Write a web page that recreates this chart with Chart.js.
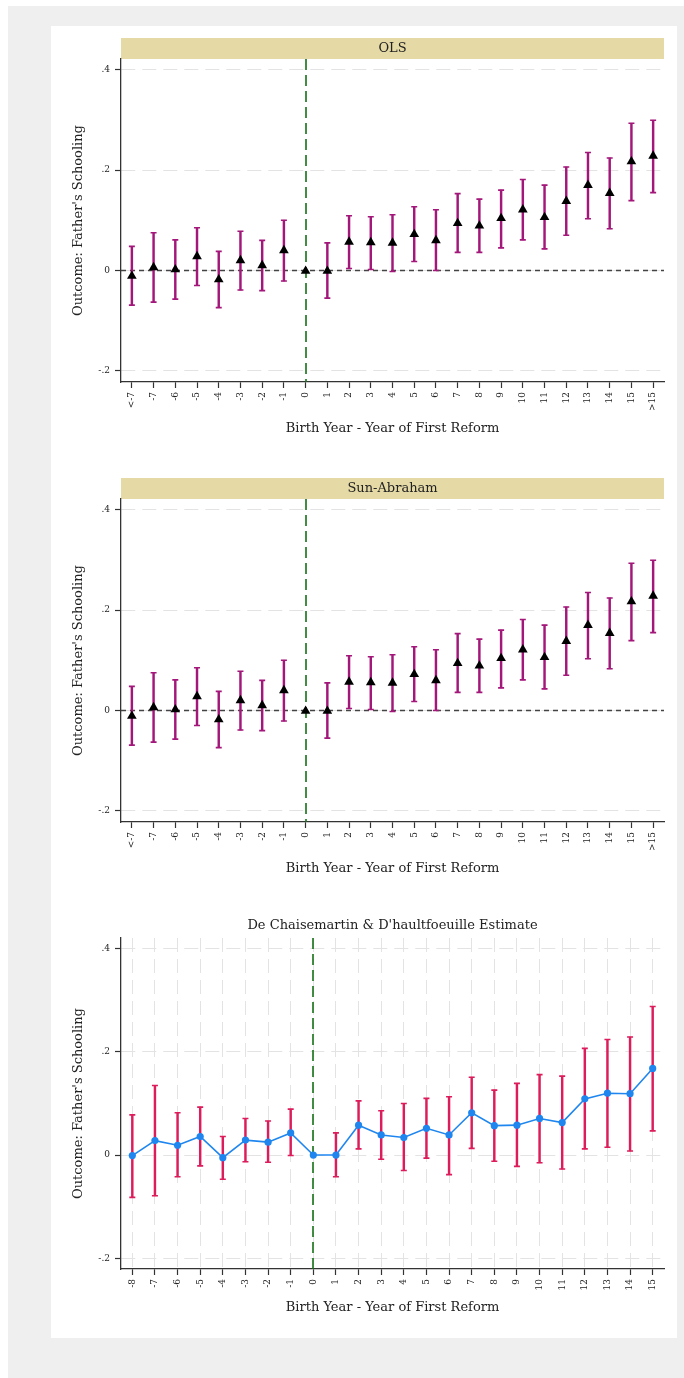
<!DOCTYPE html>
<html><head><meta charset="utf-8">
<script src="https://cdn.jsdelivr.net/npm/chart.js@4.4.0/dist/chart.umd.min.js"></script>
<style>
html,body{margin:0;padding:0;background:#fff;width:684px;height:1378px;overflow:hidden;}
#frame{position:absolute;left:8px;top:6px;width:676px;height:1372px;background:#efefef;}
#card{position:absolute;left:51px;top:26px;width:626px;height:1312px;background:#fff;}
canvas{position:absolute;left:51px;}
</style></head><body>
<div id="frame"></div><div id="card"></div>
<canvas id="c1" width="626" height="440" style="top:26px"></canvas>
<canvas id="c2" width="626" height="440" style="top:466px"></canvas>
<canvas id="c3" width="626" height="442" style="top:896px"></canvas>
<script>
// ---------- data ----------
const xLabelsBinned = ['<-7','-7','-6','-5','-4','-3','-2','-1','0','1','2','3','4','5','6','7','8','9','10','11','12','13','14','15','>15'];
const xLabelsDC = ['-8','-7','-6','-5','-4','-3','-2','-1','0','1','2','3','4','5','6','7','8','9','10','11','12','13','14','15'];
const yTickValues = [-0.2, 0, 0.2, 0.4];
const yTickLabels = ['-.2', '0', '.2', '.4'];

const olsCoef = [-0.011,0.006,0.002,0.028,-0.018,0.020,0.010,0.040,-0.001,-0.001,0.057,0.056,0.055,0.072,0.060,0.094,0.089,0.104,0.121,0.106,0.138,0.170,0.154,0.217,0.228];
const olsLo   = [-0.069,-0.063,-0.057,-0.030,-0.074,-0.039,-0.040,-0.021,null,-0.055,0.004,0.002,-0.002,0.018,0.000,0.036,0.036,0.045,0.061,0.043,0.070,0.103,0.083,0.139,0.155];
const olsHi   = [0.048,0.075,0.061,0.085,0.038,0.078,0.060,0.100,null,0.055,0.109,0.107,0.111,0.127,0.121,0.153,0.142,0.160,0.181,0.170,0.206,0.235,0.224,0.293,0.299];

const saCoef = [-0.011,0.006,0.002,0.028,-0.018,0.020,0.010,0.040,-0.001,-0.001,0.057,0.056,0.055,0.072,0.060,0.094,0.089,0.104,0.121,0.106,0.138,0.170,0.154,0.217,0.228];
const saLo   = [-0.069,-0.063,-0.057,-0.030,-0.074,-0.039,-0.040,-0.021,null,-0.055,0.004,0.002,-0.002,0.018,0.000,0.036,0.036,0.045,0.061,0.043,0.070,0.103,0.083,0.139,0.155];
const saHi   = [0.048,0.075,0.061,0.085,0.038,0.078,0.060,0.100,null,0.055,0.109,0.107,0.111,0.127,0.121,0.153,0.142,0.160,0.181,0.170,0.206,0.235,0.224,0.293,0.299];

const dcCoef = [-0.001,0.028,0.019,0.036,-0.005,0.029,0.025,0.043,0.000,0.000,0.058,0.039,0.034,0.052,0.039,0.082,0.057,0.058,0.071,0.063,0.109,0.120,0.119,0.168];
const dcLo   = [-0.082,-0.079,-0.042,-0.021,-0.047,-0.013,-0.014,-0.001,null,-0.042,0.012,-0.008,-0.030,-0.006,-0.038,0.013,-0.012,-0.022,-0.015,-0.027,0.012,0.015,0.008,0.047];
const dcHi   = [0.078,0.135,0.082,0.093,0.036,0.071,0.066,0.089,null,0.043,0.105,0.086,0.100,0.110,0.113,0.151,0.126,0.139,0.156,0.153,0.207,0.224,0.229,0.288];

// ---------- styles ----------
const FONT = "'DejaVu Serif', serif";
const TXT = 13;
Chart.defaults.font.family = FONT;
Chart.defaults.color = '#222';
Chart.defaults.animation = false;

const decor = {
  id: 'decor',
  beforeDraw(chart, args, o) {
    const {ctx, chartArea: a} = chart;
    ctx.save();
    ctx.font = TXT + 'px ' + FONT;
    ctx.textAlign = 'center';
    ctx.textBaseline = 'middle';
    if (o.strip) {
      ctx.fillStyle = '#e5d9a6';
      ctx.fillRect(a.left, a.top - 21, a.right - a.left, 21);
      ctx.fillStyle = '#222';
      ctx.fillText(o.strip, (a.left + a.right) / 2, a.top - 10);
    }
    if (o.title) {
      ctx.fillStyle = '#222';
      ctx.fillText(o.title, (a.left + a.right) / 2, a.top - 12);
    }
    ctx.restore();
  },
  beforeDatasetsDraw(chart, args, o) {
    const {ctx, chartArea: a, scales: {x, y}} = chart;
    ctx.save();
    if (o.zeroLine) {
      const py = Math.round(y.getPixelForValue(0)) + 0.5;
      ctx.strokeStyle = '#444';
      ctx.lineWidth = 1.3;
      ctx.setLineDash([5, 4]);
      ctx.beginPath(); ctx.moveTo(a.left, py); ctx.lineTo(a.right, py); ctx.stroke();
    }
    if (o.vline != null && o.vline >= 0) {
      const px = Math.round(x.getPixelForValue(o.vline));
      ctx.strokeStyle = '#167016';
      ctx.lineWidth = 1.6;
      ctx.setLineDash([11, 5]);
      ctx.beginPath(); ctx.moveTo(px, a.top); ctx.lineTo(px, a.bottom); ctx.stroke();
    }
    ctx.restore();
  }
};

function panel(id, p) {
  const ciColor = p.ciColor;
  const ranges = p.lo.map((l, i) => l == null ? null : [l, p.hi[i]]);
  const datasets = [
    { type: 'bar', data: ranges, backgroundColor: ciColor, borderWidth: 0, barThickness: 1.8, order: 3 },
    { type: 'line', data: p.lo, showLine: false, pointStyle: 'line', pointRadius: 3, pointBorderWidth: 1.6,
      pointBorderColor: ciColor, pointBackgroundColor: ciColor, order: 2 },
    { type: 'line', data: p.hi, showLine: false, pointStyle: 'line', pointRadius: 3, pointBorderWidth: 1.6,
      pointBorderColor: ciColor, pointBackgroundColor: ciColor, order: 2 }
  ];
  if (p.mode === 'tri') {
    datasets.push({ type: 'line', data: p.coef, showLine: false, pointStyle: 'triangle', pointRadius: 5.6,
      pointBorderWidth: 0, pointBackgroundColor: '#000', pointBorderColor: '#000', order: 1 });
  } else {
    datasets.push({ type: 'line', data: p.coef, showLine: true, borderColor: '#1f86ef', borderWidth: 1.6,
      tension: 0, pointStyle: 'circle', pointRadius: 3.6, pointBorderWidth: 0,
      pointBackgroundColor: '#1f86ef', order: 1 });
  }
  return new Chart(document.getElementById(id), {
    type: 'bar',
    data: { labels: p.labels, datasets },
    plugins: [decor],
    options: {
      responsive: false,
      events: [],
      layout: { padding: { top: p.padTop, right: 13, left: 0, bottom: 0 } },
      plugins: {
        legend: { display: false }, tooltip: { enabled: false },
        decor: { strip: p.strip, title: p.title, zeroLine: p.zeroLine, vline: p.labels.indexOf('0') }
      },
      scales: {
        x: {
          type: 'category', offset: true,
          afterFit: s => { s.height = p.xHeight; },
          grid: { offset: false, display: true, drawOnChartArea: p.vGrid, color: '#e3e3e3', lineWidth: 1,
                  drawTicks: true, tickLength: 6, tickColor: '#333', tickWidth: 1.2, tickBorderDash: [] },
          border: { display: true, color: '#333', width: 1.3, dash: [14, 7] },
          ticks: { autoSkip: false, minRotation: 90, maxRotation: 90, padding: 4, font: { size: 9, family: FONT }, color: '#222' },
          title: { display: true, text: 'Birth Year - Year of First Reform', font: { size: TXT, family: FONT },
                   color: '#222', padding: { top: 0, bottom: p.xTitlePad } }
        },
        y: {
          type: 'linear', min: p.yMin, max: p.yMax,
          afterFit: s => { s.width = 70; },
          afterBuildTicks: s => { s.ticks = yTickValues.map(v => ({ value: v })); },
          grid: { color: '#e3e3e3', lineWidth: 1, drawTicks: true, tickLength: 6, tickColor: '#333', tickWidth: 1.2, tickBorderDash: [] },
          border: { display: true, color: '#333', width: 1.3, dash: [14, 7] },
          ticks: { padding: 5, font: { size: 9, family: FONT }, color: '#222',
                   callback: v => yTickLabels[yTickValues.indexOf(v)] },
          title: { display: true, text: "Outcome: Father's Schooling", font: { size: TXT, family: FONT },
                   color: '#222', padding: { top: 20, bottom: 0 } }
        }
      }
    }
  });
}

panel('c1', { labels: xLabelsBinned, coef: olsCoef, lo: olsLo, hi: olsHi, ciColor: '#a3177a', mode: 'tri',
  strip: 'OLS', title: null, zeroLine: true, vGrid: false, yMin: -0.222, yMax: 0.421,
  padTop: 33, xHeight: 84, xTitlePad: 30 });
panel('c2', { labels: xLabelsBinned, coef: saCoef, lo: saLo, hi: saHi, ciColor: '#a3177a', mode: 'tri',
  strip: 'Sun-Abraham', title: null, zeroLine: true, vGrid: false, yMin: -0.222, yMax: 0.421,
  padTop: 33, xHeight: 84, xTitlePad: 30 });
panel('c3', { labels: xLabelsDC, coef: dcCoef, lo: dcLo, hi: dcHi, ciColor: '#dc1c5b', mode: 'line',
  strip: null, title: "De Chaisemartin & D'haultfoeuille Estimate", zeroLine: false, vGrid: true,
  yMin: -0.221, yMax: 0.421, padTop: 42, xHeight: 69, xTitlePad: 23 });
</script>
</body></html>
